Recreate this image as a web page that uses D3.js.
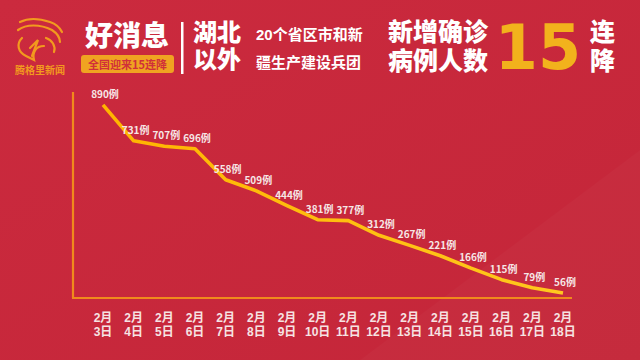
<!DOCTYPE html>
<html lang="zh-CN"><head><meta charset="utf-8">
<script src="https://cdn.jsdelivr.net/npm/d3@7"></script>
<style>html,body{margin:0;padding:0;background:#c8283c;}svg{display:block;}</style>
</head><body>
<svg id="c" width="640" height="360" lang="zh-CN"></svg>
<script>
const dates = ["3日","4日","5日","6日","7日","8日","9日","10日","11日","12日","13日","14日","15日","16日","17日","18日"];
const month = "2月";
const cases = [890,731,707,696,558,509,444,381,377,312,267,221,166,115,79,56];
const unit = "例";

const svg = d3.select("#c");
const W = 640, H = 360;
const font = "'Noto Sans CJK SC','Noto Sans',sans-serif";
const tight = "'Liberation Sans','Noto Sans CJK SC',sans-serif";

// background
const defs = svg.append("defs");
const bg = defs.append("linearGradient").attr("id","bg").attr("x1","0").attr("y1","0").attr("x2","1").attr("y2","1");
bg.append("stop").attr("offset","0").attr("stop-color","#cb2a3e");
bg.append("stop").attr("offset","1").attr("stop-color","#c42639");
svg.append("rect").attr("width",W).attr("height",H).attr("fill","url(#bg)");
svg.append("path").attr("d","M360,360 L640,150 L640,360 Z").attr("fill","#ffffff").attr("opacity",0.025);

const lg = defs.append("linearGradient").attr("id","ln").attr("x1","0").attr("x2","1");
lg.append("stop").attr("offset","0").attr("stop-color","#ffb400");
lg.append("stop").attr("offset","1").attr("stop-color","#ffc81e");

// scales
const x = d3.scalePoint().domain(dates).range([103, 563]);
const y = d3.scaleLinear().domain([0, 900]).range([305.6, 102.7]);

// axes lines
const axisColor = "#f08a1c";
svg.append("line").attr("x1",73).attr("x2",73).attr("y1",92).attr("y2",298).attr("stroke",axisColor).attr("stroke-width",2.2);
svg.append("line").attr("x1",72).attr("x2",572).attr("y1",298).attr("y2",298).attr("stroke",axisColor).attr("stroke-width",2.2);

// line
const line = d3.line().x((d,i)=>x(dates[i])).y(d=>y(d));
svg.append("path").datum(cases).attr("d",line).attr("fill","none")
  .attr("stroke","url(#ln)").attr("stroke-width",3.6).attr("stroke-linejoin","round").attr("stroke-linecap","butt");

// value labels
svg.append("g").selectAll("text").data(cases).join("text")
  .attr("x",(d,i)=>x(dates[i])+2).attr("y",d=>y(d)-7)
  .attr("text-anchor","middle").attr("font-family",font).attr("font-size",10).attr("font-weight",700)
  .attr("fill","#f6e6e6").text(d=>d+unit);

// x tick labels (two lines)
const xt = svg.append("g").selectAll("g").data(dates).join("g");
xt.append("text").attr("x",d=>x(d)).attr("y",322).attr("text-anchor","middle").attr("font-family",tight).attr("font-size",12).attr("font-weight",700).attr("fill","#f6e3e3").text(month);
xt.append("text").attr("x",d=>x(d)).attr("y",336).attr("text-anchor","middle").attr("font-family",tight).attr("font-size",12).attr("font-weight",700).attr("fill","#f6e3e3").text(d=>d);

// ---- header ----
const logo = svg.append("g").attr("fill","none").attr("stroke","#f29a1e").attr("stroke-width",2.2).attr("stroke-linecap","round");
logo.append("path").attr("d","M20,22 C28,18 38,18 50,22 C56,24 60,28 62,32");
logo.append("path").attr("d","M18,30 C26,24 40,24 52,30 C58,34 60,38 60,42");
logo.append("path").attr("d","M22,38 C16,44 18,52 26,56 L34,60 C32,52 36,46 44,46");
logo.append("path").attr("d","M30,48 L38,40 L32,56");
logo.append("path").attr("d","M46,38 C52,40 56,46 54,52");
svg.append("text").attr("x",40).attr("y",74).attr("text-anchor","middle").attr("font-family",font).attr("font-size",10).attr("font-weight",700).attr("fill","#f29a1e").text("腾格里新闻");

svg.append("text").attr("x",127).attr("y",46).attr("text-anchor","middle").attr("font-family",font).attr("font-size",28).attr("font-weight",900).attr("fill","#ffffff").text("好消息");
svg.append("rect").attr("x",81).attr("y",55).attr("width",93).attr("height",18).attr("rx",3).attr("fill","#f0a321");
svg.append("text").attr("x",127.5).attr("y",68.5).attr("text-anchor","middle").attr("font-family",font).attr("font-size",11).attr("font-weight",700).attr("fill","#d0303a").text("全国迎来15连降");
svg.append("rect").attr("x",181).attr("y",22).attr("width",2.5).attr("height",52).attr("fill","#ffffff");

const two = (a,b,xx,y1,y2,s,w)=>{
  svg.append("text").attr("x",xx).attr("y",y1).attr("font-family",tight).attr("font-size",s).attr("font-weight",w).attr("fill","#ffffff").text(a);
  svg.append("text").attr("x",xx).attr("y",y2).attr("font-family",tight).attr("font-size",s).attr("font-weight",w).attr("fill","#ffffff").text(b);
};
two("湖北","以外",193,41,68,24,900);
two("20个省区市和新","疆生产建设兵团",256,40,68,15,700);
two("新增确诊","病例人数",388,41,70,25,900);
svg.append("text").attr("x",538).attr("y",69).attr("text-anchor","middle").attr("font-family","'DejaVu Sans',sans-serif").attr("font-size",62).attr("font-weight",700).attr("fill","#f2b21c").text("15");
two("连","降",590,41,70,25,900);
</script>
</body></html>
